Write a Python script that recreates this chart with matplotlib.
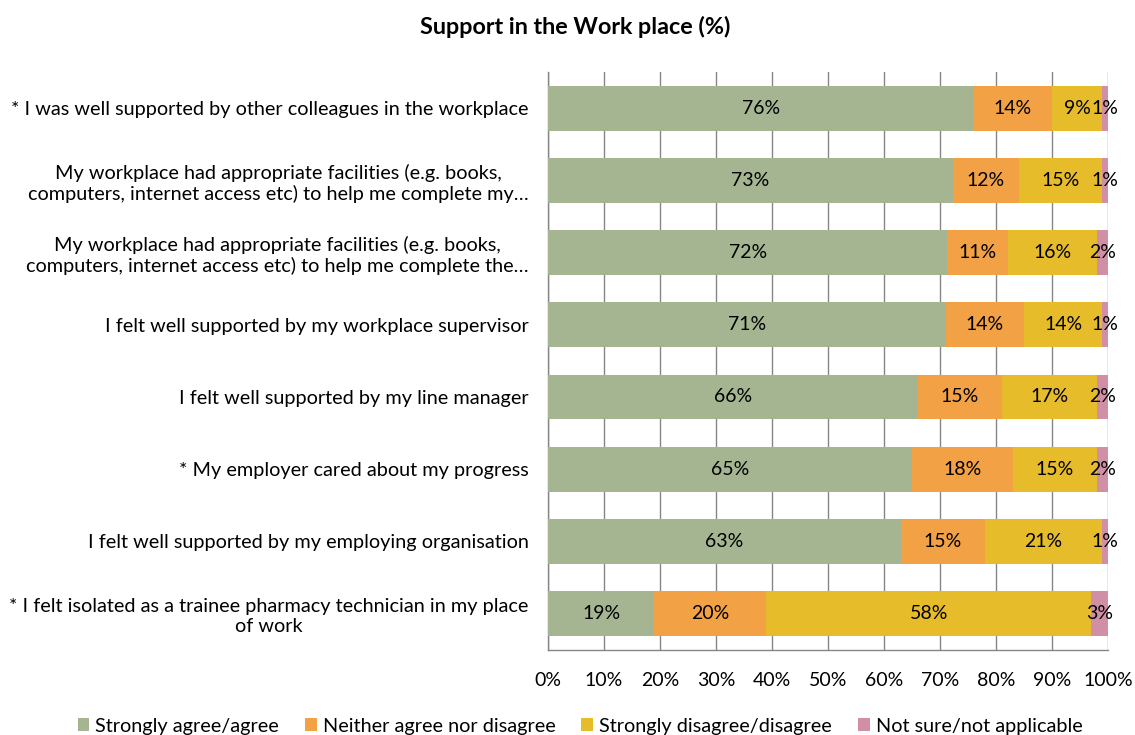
import numpy as np
import matplotlib.pyplot as plt
from matplotlib.patches import Patch

plt.rcParams['font.family'] = ['Lato', 'DejaVu Sans']

# Survey statements, top to bottom
statements = [
    "* I was well supported by other colleagues in the workplace",
    "My workplace had appropriate facilities (e.g. books,\ncomputers, internet access etc) to help me complete my\u2026",
    "My workplace had appropriate facilities (e.g. books,\ncomputers, internet access etc) to help me complete the\u2026",
    "I felt well supported by my workplace supervisor",
    "I felt well supported by my line manager",
    "* My employer cared about my progress",
    "I felt well supported by my employing organisation",
    "* I felt isolated as a trainee pharmacy technician in my place\nof work",
]

agree = [76, 73, 72, 71, 66, 65, 63, 19]
neither = [14, 12, 11, 14, 15, 18, 15, 20]
disagree = [9, 15, 16, 14, 17, 15, 21, 58]
not_sure = [1, 1, 2, 1, 2, 2, 1, 3]

series_names = ["Strongly agree/agree", "Neither agree nor disagree",
                "Strongly disagree/disagree", "Not sure/not applicable"]
colors = ["#A5B592", "#F2A144", "#E6BC2A", "#D18FA6"]

data = np.array([agree, neither, disagree, not_sure], dtype=float)
# 100% stacked: scale each row to its total
shares = data / data.sum(axis=0) * 100

fig = plt.figure(figsize=(11.35, 7.35), dpi=100)
ax = fig.add_axes([0.4828, 0.116, 0.4934, 0.786])

y = np.arange(len(statements))
left = np.zeros(len(statements))
for vals, share, color in zip(data, shares, colors):
    ax.barh(y, share, left=left, height=0.62, color=color, zorder=3)
    for yi, v, l, s in zip(y, vals, left, share):
        ax.text(l + s / 2, yi, f"{int(v)}%", ha='center', va='center',
                fontsize=14, color='#000000', zorder=4)
    left += share

ax.set_ylim(len(statements) - 0.5, -0.5)
ax.set_xlim(0, 100)
ax.set_xticks(np.arange(0, 101, 10))
ax.set_xticklabels([f"{t}%" for t in range(0, 101, 10)], fontsize=14)
ax.set_yticks(y)
ax.set_yticklabels(statements, fontsize=14.3, ma='center')
ax.tick_params(axis='y', length=0, pad=14)
ax.tick_params(axis='x', length=0, pad=16)

ax.xaxis.grid(True, color='#868686', linewidth=1, zorder=0)
for side in ['top', 'right']:
    ax.spines[side].set_visible(False)
for side in ['left', 'bottom']:
    ax.spines[side].set_color('#868686')
    ax.spines[side].set_linewidth(1)

fig.suptitle("Support in the Work place (%)", fontsize=16.8, fontweight='bold',
             x=0.507, y=0.978)

handles = [Patch(facecolor=c, edgecolor='none') for c in colors]
fig.legend(handles, series_names, loc='center', bbox_to_anchor=(0.511, 0.012),
           ncol=4, frameon=False, fontsize=14.3, handlelength=0.6, handleheight=0.6,
           handletextpad=0.3, columnspacing=1.3)

fig.savefig("out.png", dpi=100)
